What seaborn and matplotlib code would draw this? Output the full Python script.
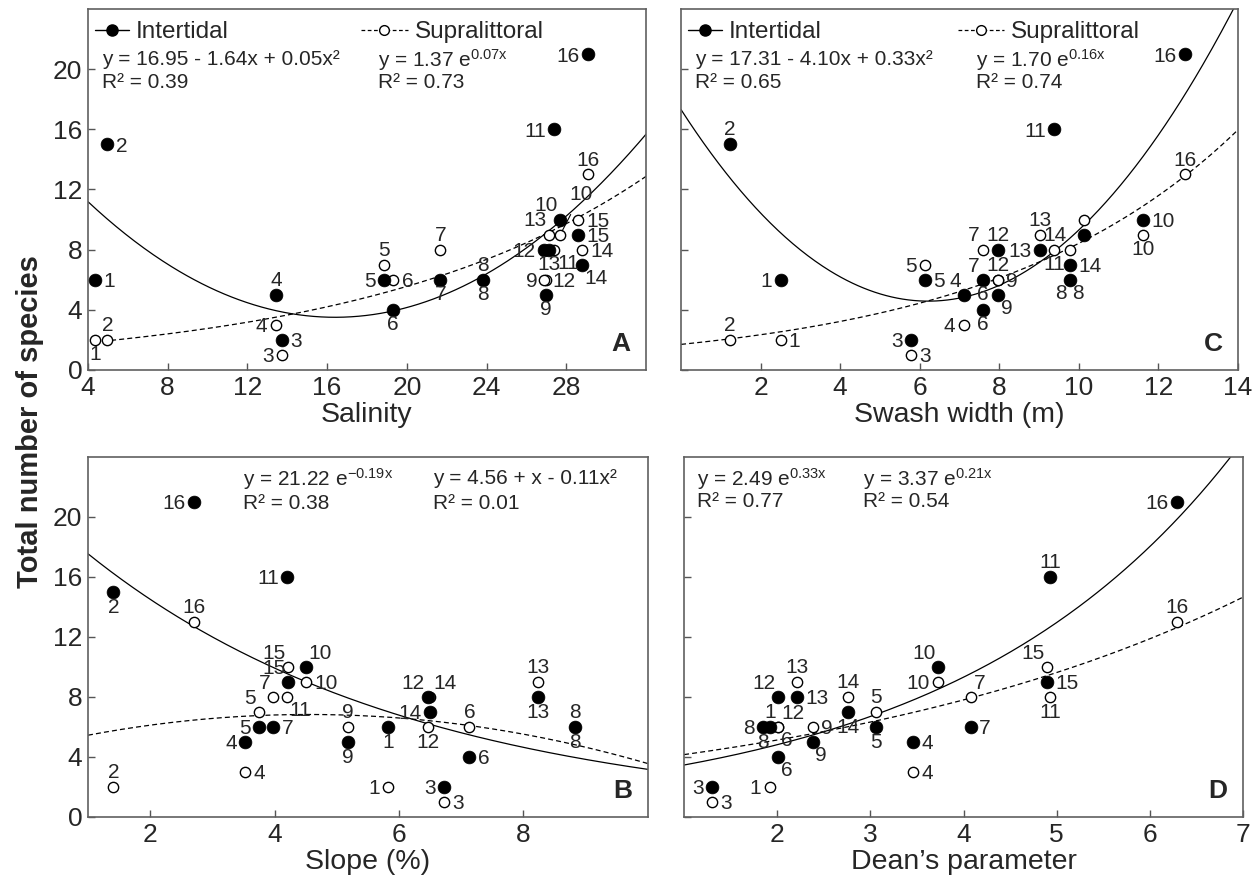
#!/usr/bin/env python3
"""Species richness vs beach descriptors, intertidal and supralittoral zones (4 panels)."""

import numpy as np
import pandas as pd
import matplotlib
matplotlib.use('Agg')
import matplotlib.pyplot as plt
import seaborn as sns
from matplotlib.lines import Line2D

sns.set_theme(style='ticks')
plt.rcParams['font.family'] = ['Liberation Sans', 'DejaVu Sans']
plt.rcParams['mathtext.fontset'] = 'custom'
plt.rcParams['mathtext.rm'] = 'Liberation Sans'
plt.rcParams['mathtext.default'] = 'regular'

# ---- data -------------------------------------------------------------
SITES = [str(i) for i in range(1, 17)]
INTER_SPECIES = [6, 15, 2, 5, 6, 4, 6, 6, 5, 10, 16, 8, 8, 7, 9, 21]
SUPRA_SPECIES = [2, 2, 1, 3, 7, 6, 8, 6, 6, 9, 8, 6, 9, 8, 10, 13]

SALINITY = [4.35, 4.98, 13.73, 13.43, 18.85, 19.32, 21.68, 23.8,
            26.97, 27.7, 27.4, 26.88, 27.15, 28.77, 28.6, 29.1]
SWASH = [2.5, 1.22, 5.78, 7.1, 6.13, 7.58, 7.58, 9.77,
         7.96, 11.61, 9.38, 7.96, 9.02, 9.77, 10.13, 12.66]
SLOPE = [5.83, 1.41, 6.72, 3.53, 3.75, 7.13, 3.98, 8.83,
         5.18, 4.5, 4.2, 6.46, 8.24, 6.5, 4.22, 2.7]
DEAN = [1.92, np.nan, 1.30, 3.46, 3.06, 2.01, 4.08, 1.85,
        2.38, 3.73, 4.93, 2.01, 2.21, 2.76, 4.9, 6.29]

# fitted curves as printed on the chart: (kind, coefficients)
FIT_A = {'Intertidal': ('poly', [16.95, -1.64, 0.05]), 'Supralittoral': ('exp', [1.37, 0.07])}
FIT_C = {'Intertidal': ('poly', [17.31, -4.10, 0.33]), 'Supralittoral': ('exp', [1.70, 0.16])}
FIT_B = {'Intertidal': ('exp', [21.22, -0.19]), 'Supralittoral': ('poly', [4.56, 1.0, -0.11])}
FIT_D = {'Intertidal': ('exp', [2.49, 0.33]), 'Supralittoral': ('exp', [3.37, 0.21])}

EQ_A = [('y = 16.95 - 1.64x + 0.05x²', 'R² = 0.39'), ('y = 1.37 e$^{0.07x}$', 'R² = 0.73')]
EQ_C = [('y = 17.31 - 4.10x + 0.33x²', 'R² = 0.65'), ('y = 1.70 e$^{0.16x}$', 'R² = 0.74')]
EQ_B = [('y = 21.22 e$^{-0.19x}$', 'R² = 0.38'), ('y = 4.56 + x - 0.11x²', 'R² = 0.01')]
EQ_D = [('y = 2.49 e$^{0.33x}$', 'R² = 0.77'), ('y = 3.37 e$^{0.21x}$', 'R² = 0.54')]

# where each site number sits relative to its marker
INT_POS_A = ['r', 'r', 'r', 'a', 'l', 'b', 'b', 'b', 'b', 'al', 'l', 'l', 'b', 'br', 'r', 'l']
SUP_POS_A = ['b', 'a', 'l', 'l', 'a', 'r', 'a', 'a', 'l', 'lead', 'br', 'r', 'al', 'r', 'r', 'a']
INT_POS_C = ['l', 'a', 'l', 'al', 'r', 'b', 'al', 'bl', 'br', 'r', 'l', 'a', 'l', 'r', '', 'l']
SUP_POS_C = ['r', 'a', 'r', 'l', 'l', 'b', 'al', 'br', 'r', 'b', 'b', 'a', 'a', 'al', '', 'a']
INT_POS_B = ['b', 'b', 'l', 'l', 'l', 'r', 'r', 'a', 'b', 'ar', 'l', 'al', 'b', 'l', 'al', 'l']
SUP_POS_B = ['l', 'a', 'r', 'r', 'al', 'a', 'al', 'b', 'a', 'r', 'br', 'b', 'a', 'ar', 'al', 'a']
INT_POS_D = ['a', '', 'l', 'r', 'b', 'br', 'r', 'l', 'br', 'al', 'a', 'al', 'r', 'b', 'r', 'l']
SUP_POS_D = ['l', '', 'r', 'r', 'a', 'br', 'ar', 'b', 'r', 'l', 'b', 'ar', 'a', 'a', 'al', 'a']

OFFS = {
    'r': (6, 0, 'left', 'center_baseline'), 'l': (-6, 0, 'right', 'center_baseline'),
    'a': (0, 3.5, 'center', 'bottom'), 'b': (0, -4, 'center', 'top'),
    'al': (-2, 3, 'right', 'bottom'), 'ar': (2, 3, 'left', 'bottom'),
    'bl': (-2, -3, 'right', 'top'), 'br': (2, -3, 'left', 'top'),
}


def curve(kind, c, x):
    if kind == 'poly':
        return c[0] + c[1] * x + c[2] * x ** 2
    return c[0] * np.exp(c[1] * x)


def build_frame(xs, int_pos, sup_pos):
    inter = pd.DataFrame({'x': xs, 'species': INTER_SPECIES, 'site': SITES,
                          'pos': int_pos, 'zone': 'Intertidal'})
    supra = pd.DataFrame({'x': xs, 'species': SUPRA_SPECIES, 'site': SITES,
                          'pos': sup_pos, 'zone': 'Supralittoral'})
    return pd.concat([inter, supra]).dropna(subset=['x'])


def draw_panel(ax, df, fits, eqs, letter, xlim, xticks, xlabel, eq_x, eq_y,
               sup_start=None, legend_x=None, ylabels=True):
    # trend curves
    for zone, ls in [('Intertidal', '-'), ('Supralittoral', (0, (4, 2.5)))]:
        kind, c = fits[zone]
        lo = xlim[0]
        if zone == 'Supralittoral' and sup_start is not None:
            lo = sup_start
        xx = np.linspace(lo, xlim[1], 300)
        cdf = pd.DataFrame({'x': xx, 'y': curve(kind, c, xx)})
        sns.lineplot(data=cdf, x='x', y='y', ax=ax, color='black', lw=0.9,
                     linestyle=ls, errorbar=None, sort=False, zorder=2)

    sup = df[df['zone'] == 'Supralittoral']
    inter = df[df['zone'] == 'Intertidal']
    sns.scatterplot(data=sup, x='x', y='species', ax=ax, s=55, marker='o',
                    facecolor='white', edgecolor='black', linewidth=1.0, zorder=3)
    sns.scatterplot(data=inter, x='x', y='species', ax=ax, s=85, marker='o',
                    color='black', edgecolor='black', linewidth=0.5, zorder=4)

    # site numbers
    for _, r in df.iterrows():
        if not r['pos']:
            continue
        if r['pos'] == 'lead':
            ax.annotate(r['site'], (r['x'], r['species']), xytext=(15, 29),
                        textcoords='offset points', ha='center', va='center',
                        fontsize=15, zorder=5,
                        arrowprops=dict(arrowstyle='-', lw=0.8, color='black',
                                        shrinkA=6, shrinkB=3))
            continue
        dx, dy, ha, va = OFFS[r['pos']]
        ax.annotate(r['site'], (r['x'], r['species']), xytext=(dx, dy),
                    textcoords='offset points', ha=ha, va=va, fontsize=15, zorder=5)

    # equations
    for (eq, r2), ex in zip(eqs, eq_x):
        ax.text(ex, eq_y[0], eq, transform=ax.transAxes, fontsize=15, va='center')
        ax.text(ex, eq_y[1], r2, transform=ax.transAxes, fontsize=15, va='center')

    if legend_x is not None:
        h_int = Line2D([], [], color='black', lw=1, marker='o', ms=8, mfc='black', mec='black')
        h_sup = Line2D([], [], color='black', lw=0.9, ls=(0, (3, 2)), marker='o', ms=7,
                       mfc='white', mec='black')
        leg1 = ax.legend(handles=[h_int], labels=['Intertidal'], loc='center left',
                         bbox_to_anchor=(0.012, 0.936), frameon=False, fontsize=17.5,
                         handlelength=1.4, handletextpad=0.3, borderaxespad=0, borderpad=0)
        ax.add_artist(leg1)
        ax.legend(handles=[h_sup], labels=['Supralittoral'], loc='center left',
                  bbox_to_anchor=(legend_x, 0.936), frameon=False, fontsize=17.5,
                  handlelength=1.9, handletextpad=0.3, borderaxespad=0, borderpad=0)

    ax.text(0.972, 0.038, letter, transform=ax.transAxes, fontsize=19,
            fontweight='bold', ha='right', va='bottom')

    ax.set_xlim(*xlim)
    ax.set_ylim(0, 24)
    ax.set_xticks(xticks)
    ax.set_yticks([0, 4, 8, 12, 16, 20])
    ax.set_xlabel(xlabel, fontsize=20.5, labelpad=2)
    ax.set_ylabel('')
    ax.tick_params(direction='in', length=5, width=1, color='#555555',
                   labelsize=19, pad=4, labelleft=ylabels)
    for sp in ax.spines.values():
        sp.set_color('#606060')
        sp.set_linewidth(1.2)


fig = plt.figure(figsize=(12.6, 8.96), dpi=100)
ax_a = fig.add_axes([0.0698, 0.5871, 0.4429, 0.4029])
ax_c = fig.add_axes([0.5405, 0.5871, 0.4421, 0.4029])
ax_b = fig.add_axes([0.0698, 0.0882, 0.4444, 0.4018])
ax_d = fig.add_axes([0.5429, 0.0882, 0.4437, 0.4018])

draw_panel(ax_a, build_frame(SALINITY, INT_POS_A, SUP_POS_A), FIT_A, EQ_A, 'A',
           (4, 32), [4, 8, 12, 16, 20, 24, 28], 'Salinity', [0.025, 0.52], [0.859, 0.795],
           sup_start=min(SALINITY), legend_x=0.49)
draw_panel(ax_c, build_frame(SWASH, INT_POS_C, SUP_POS_C), FIT_C, EQ_C, 'C',
           (0, 14), [2, 4, 6, 8, 10, 12, 14], 'Swash width (m)', [0.025, 0.53], [0.859, 0.795],
           legend_x=0.497, ylabels=False)
draw_panel(ax_b, build_frame(SLOPE, INT_POS_B, SUP_POS_B), FIT_B, EQ_B, 'B',
           (1, 10), [2, 4, 6, 8], 'Slope (%)', [0.277, 0.616], [0.94, 0.872])
draw_panel(ax_d, build_frame(DEAN, INT_POS_D, SUP_POS_D), FIT_D, EQ_D, 'D',
           (1, 7), [2, 3, 4, 5, 6, 7], 'Dean\u2019s parameter', [0.023, 0.32], [0.94, 0.875],
           ylabels=False)

fig.text(0.024, 0.53, 'Total number of species', rotation=90, fontsize=21,
         fontweight='bold', ha='center', va='center')

fig.savefig('out.png', dpi=100)
plt.close(fig)
